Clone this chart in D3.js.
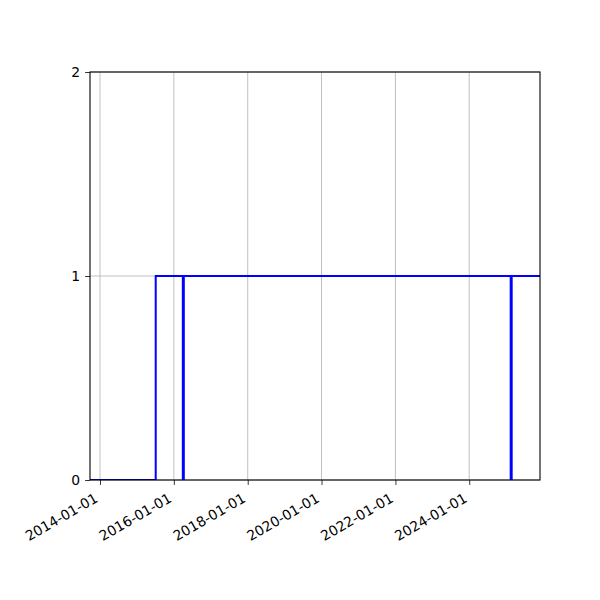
<!DOCTYPE html>
<html>
<head>
<meta charset="utf-8">
<script src="https://cdn.jsdelivr.net/npm/d3@7"></script>
<style>
  body { margin: 0; background: #fff; }
  svg, svg text { font-family: "DejaVu Sans", sans-serif; }
</style>
</head>
<body>
<svg id="chart" width="600" height="600"></svg>
<script>
// step series (drawn steps-post)
const stepDates = ["2013-09-24", "2015-07-06", "2025-12-01"];
const stepValues = [0, 1, 1];
// single events drawn as vertical bars from 0 to 1
const eventDates = ["2016-04-04", "2025-02-19"];
const eventValues = [1, 1];
const yTicks = [0, 1, 2];
const xTickLabels = ["2014-01-01", "2016-01-01", "2018-01-01", "2020-01-01", "2022-01-01", "2024-01-01"];

const FONT_SIZE = 13.9;
const parse = d3.timeParse("%Y-%m-%d");
const margin = { top: 72, right: 60, bottom: 120, left: 90 };
const width = 600 - margin.left - margin.right,
    height = 600 - margin.top - margin.bottom;

const svg = d3.select("#chart");
const g = svg.append("g").attr("transform", `translate(${margin.left},${margin.top})`);

const steps = stepDates.map((d, i) => ({ date: parse(d), value: stepValues[i] }));
const events = eventDates.map((d, i) => ({ date: parse(d), value: eventValues[i] }));

const x = d3.scaleTime()
    .domain(d3.extent(steps, (d) => d.date))
    .range([0, width]);
const y = d3.scaleLinear().domain([0, 2]).range([height, 0]);

svg.append("defs").append("clipPath").attr("id", "clip")
    .append("rect").attr("width", width).attr("height", height);

// grid
const xTickDates = xTickLabels.map(parse);
g.append("g").selectAll("line").data(xTickDates).enter().append("line")
    .attr("x1", (d) => x(d)).attr("x2", (d) => x(d))
    .attr("y1", 0).attr("y2", height)
    .attr("stroke", "#b0b0b0").attr("stroke-width", 0.8);
g.append("g").selectAll("line").data(yTicks).enter().append("line")
    .attr("x1", 0).attr("x2", width)
    .attr("y1", (d) => y(d)).attr("y2", (d) => y(d))
    .attr("stroke", "#b0b0b0").attr("stroke-width", 0.8);

const plot = g.append("g").attr("clip-path", "url(#clip)");

const line = d3.line()
    .x((d) => x(d.date))
    .y((d) => y(d.value))
    .curve(d3.curveStepAfter);

plot.append("path")
    .datum(steps)
    .attr("d", line)
    .attr("fill", "none")
    .attr("stroke", "#0000ff")
    .attr("stroke-width", 2);

plot.selectAll(".event").data(events).enter().append("line")
    .attr("class", "event")
    .attr("x1", (d) => x(d.date)).attr("x2", (d) => x(d.date))
    .attr("y1", y(0)).attr("y2", (d) => y(d.value))
    .attr("stroke", "#0000ff")
    .attr("stroke-width", 3);

// axes
const xAxis = g.append("g")
    .attr("transform", `translate(0,${height})`)
    .call(d3.axisBottom(x).tickValues(xTickDates).tickFormat((d, i) => xTickLabels[i]).tickSizeOuter(0).tickSize(4.9))
    .attr("font-family", "DejaVu Sans")
    .attr("font-size", FONT_SIZE);
xAxis.select(".domain").remove();
xAxis.selectAll("line").attr("stroke", "#000").attr("stroke-width", 0.8);

// matplotlib style: rotated bbox, right edge at tick, top edge under the tick
let lineH = FONT_SIZE * 1.164,
    descent = FONT_SIZE * 0.236,
    topY = 9.8;
xAxis.selectAll(".tick text")
    .attr("fill", "#000")
    .attr("text-anchor", "end")
    .attr("x", 0)
    .attr("y", -descent)
    .attr("dy", null)
    .attr("transform", `translate(0,${topY + lineH * Math.cos(Math.PI / 6)}) rotate(-30)`);

const yAxis = g.append("g")
    .call(d3.axisLeft(y).tickValues(yTicks).tickFormat(d3.format("d")).tickSizeOuter(0).tickSize(4.9).tickPadding(4.9))
    .attr("font-family", "DejaVu Sans")
    .attr("font-size", FONT_SIZE);
yAxis.select(".domain").remove();
yAxis.selectAll("line").attr("stroke", "#000").attr("stroke-width", 0.8);
yAxis.selectAll("text").attr("fill", "#000");

// spines
g.append("rect")
    .attr("width", width).attr("height", height)
    .attr("fill", "none").attr("stroke", "#000").attr("stroke-width", 1.1);
</script>
</body>
</html>
